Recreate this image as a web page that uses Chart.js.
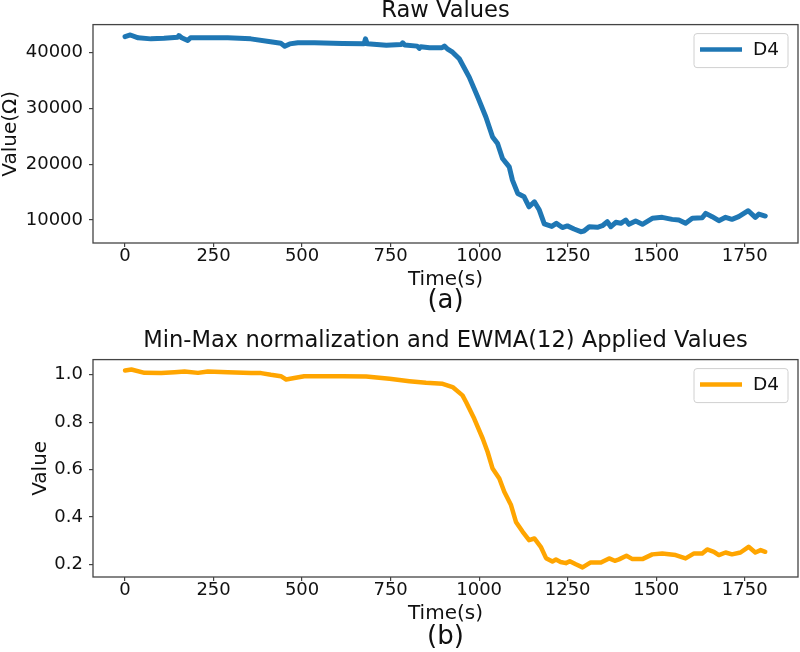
<!DOCTYPE html>
<html>
<head>
<meta charset="utf-8">
<script src="https://cdn.jsdelivr.net/npm/chart.js@4"></script>
<style>
body{margin:0;background:#fff;}
.box{position:absolute;left:0;width:800px;}
</style>
</head>
<body>
<div class="box" style="top:0;height:320px"><canvas id="rawChart"></canvas></div>
<div class="box" style="top:320px;height:332px"><canvas id="normChart"></canvas></div>
<script>
// time axis ticks (s)
const timeTicks = [0, 250, 500, 750, 1000, 1250, 1500, 1750];
const rawTicks = [10000, 20000, 30000, 40000];
const normTicks = [0.2, 0.4, 0.6, 0.8, 1.0];

// (a) raw resistance of D4
const rawTime = [0, 15, 37, 73, 110, 149, 152, 160, 177, 185, 225, 290, 355, 411, 440, 451, 465, 488, 535,
  614, 675, 679, 684, 738, 780, 784, 790, 825, 831, 835, 860, 895, 902, 910, 925, 944, 972, 996, 1019,
  1038, 1052, 1066, 1085, 1094, 1109, 1127, 1141, 1156, 1170, 1184, 1205, 1218, 1235, 1249, 1268, 1287,
  1296, 1311, 1334, 1348, 1362, 1372, 1386, 1400, 1414, 1423, 1442, 1461, 1489, 1517, 1545, 1564, 1583,
  1602, 1630, 1640, 1658, 1677, 1696, 1714, 1733, 1760, 1780, 1790, 1808];
const rawValues = [42900, 43200, 42680, 42500, 42600, 42800, 43100, 42700, 42200, 42700, 42680, 42680, 42500,
  41970, 41700, 41180, 41600, 41800, 41800, 41660, 41610, 42500, 41610, 41360, 41480, 41800, 41400, 41200,
  40800, 41100, 40900, 40900, 41200, 40720, 40110, 38930, 35640, 32060, 28480, 24900, 23720, 21040, 19530,
  17150, 14770, 14170, 12380, 13270, 11790, 9300, 8850, 9400, 8650, 8950, 8390, 7910, 8030, 8800, 8690,
  8980, 9700, 8800, 9590, 9410, 10000, 9230, 9820, 9230, 10300, 10480, 10120, 10000, 9410, 10300, 10400,
  11200, 10600, 9880, 10480, 10120, 10600, 11670, 10480, 11070, 10720];

// (b) min-max normalised + EWMA(12)
const normTime = [0, 18, 55, 102, 140, 168, 206, 234, 290, 356, 384, 412, 440, 455, 478, 506, 539, 615, 681,
  747, 803, 850, 897, 925, 953, 963, 986, 1010, 1024, 1038, 1057, 1071, 1090, 1104, 1123, 1141, 1156,
  1174, 1189, 1207, 1217, 1230, 1245, 1256, 1273, 1292, 1315, 1344, 1367, 1383, 1395, 1416, 1433, 1461,
  1489, 1517, 1555, 1583, 1607, 1630, 1644, 1663, 1677, 1696, 1714, 1738, 1761, 1780, 1795, 1808];
const normValues = [1.018, 1.022, 1.008, 1.007, 1.011, 1.014, 1.008, 1.014, 1.011, 1.007, 1.007, 1.0, 0.994,
  0.980, 0.986, 0.994, 0.994, 0.994, 0.993, 0.983, 0.973, 0.966, 0.962, 0.948, 0.913, 0.885, 0.815, 0.731,
  0.674, 0.604, 0.562, 0.506, 0.450, 0.379, 0.337, 0.302, 0.309, 0.274, 0.226, 0.212, 0.220, 0.210, 0.205,
  0.213, 0.200, 0.187, 0.208, 0.208, 0.225, 0.215, 0.221, 0.236, 0.222, 0.222, 0.242, 0.246, 0.239, 0.225,
  0.246, 0.246, 0.263, 0.253, 0.239, 0.250, 0.242, 0.250, 0.274, 0.250, 0.260, 0.253];

const FONT = "'DejaVu Sans', sans-serif";
const INK = "#111";
const SPINE = "#444";
Chart.defaults.font.family = FONT;
Chart.defaults.color = INK;

// full box round the plot + matplotlib-like legend in the top right corner
const framePlugin = {
  id: "frame",
  afterDraw(chart){
    const c = chart.ctx, a = chart.chartArea;
    const ds = chart.data.datasets[0];
    c.save();
    c.strokeStyle = SPINE;
    c.lineWidth = 1.3;
    c.strokeRect(a.left, a.top, a.right - a.left, a.bottom - a.top);

    const fx = a.right - 104, fy = a.top + 9;
    c.fillStyle = "rgba(255,255,255,0.8)";
    c.strokeStyle = "#d0d0d0";
    c.lineWidth = 1;
    c.beginPath();
    c.roundRect(fx, fy, 94, 34, 3);
    c.fill();
    c.stroke();
    c.strokeStyle = ds.borderColor;
    c.lineWidth = 4.5;
    c.beginPath();
    c.moveTo(fx + 6, fy + 16);
    c.lineTo(fx + 48, fy + 16);
    c.stroke();
    c.fillStyle = INK;
    c.font = "18.5px " + FONT;
    c.textBaseline = "middle";
    c.fillText(ds.label, fx + 59, fy + 17);
    c.restore();
  }
};

function makeChart(id, o){
  return new Chart(document.getElementById(id), {
    type: "line",
    data: {datasets: [{
      label: "D4",
      data: o.xs.map((t, i) => ({x: t, y: o.ys[i]})),
      borderColor: o.color,
      backgroundColor: o.color,
      borderWidth: o.lw,
      borderJoinStyle: "round",
      borderCapStyle: "round",
      pointRadius: 0,
      tension: 0
    }]},
    options: {
      responsive: true,
      maintainAspectRatio: false,
      animation: false,
      events: [],
      layout: {padding: o.pad},
      plugins: {
        title: {display: true, fullSize: false, text: o.title, color: INK,
          font: {size: 22.6, weight: "normal", lineHeight: 1}, padding: {top: 0, bottom: o.titleGap}},
        subtitle: {display: true, fullSize: false, text: o.tag, position: "bottom", color: INK,
          font: {size: 26, weight: "normal", lineHeight: 0.9}, padding: 0},
        legend: {display: false},
        tooltip: {enabled: false}
      },
      scales: {
        x: {
          type: "linear", min: -90.5, max: 1900.5,
          afterBuildTicks: s => { s.ticks = timeTicks.map(v => ({value: v})); },
          afterFit: s => { s.height = o.xHeight; },
          border: {display: false},
          grid: {drawOnChartArea: false, drawTicks: true, tickLength: 4, color: SPINE, lineWidth: 1.2},
          ticks: {font: {size: 18}, padding: -1, color: INK, maxRotation: 0, callback: v => String(v)},
          title: {display: true, text: "Time(s)", color: INK, font: {size: 20, lineHeight: 1},
            padding: {top: 0, bottom: o.xTitlePad}}
        },
        y: {
          min: o.yMin, max: o.yMax,
          afterBuildTicks: s => { s.ticks = o.yTicks.map(v => ({value: v})); },
          afterFit: s => { s.width = 93; },
          border: {display: false},
          grid: {drawOnChartArea: false, drawTicks: true, tickLength: 4, color: SPINE, lineWidth: 1.2},
          ticks: {font: {size: 18}, padding: 6, color: INK, callback: o.fmt},
          title: {display: true, text: o.yTitle, color: INK, font: {size: 20, lineHeight: 1},
            padding: {top: o.yTitlePad, bottom: o.yTitlePad}}
        }
      }
    },
    plugins: [framePlugin]
  });
}

makeChart("rawChart", {
  xs: rawTime, ys: rawValues, color: "#1f77b4", lw: 5,
  title: "Raw Values", tag: "(a)", titleGap: 2, xHeight: 47, xTitlePad: 0,
  yMin: 5880, yMax: 45060, yTicks: rawTicks, fmt: v => String(v),
  yTitle: "Value(Ω)", yTitlePad: 1,
  pad: {top: 0, right: 2, bottom: 6.6, left: 0}
});

makeChart("normChart", {
  xs: normTime, ys: normValues, color: "#ffa500", lw: 4.5,
  title: "Min-Max normalization and EWMA(12) Applied Values", tag: "(b)", titleGap: 7, xHeight: 49, xTitlePad: 2,
  yMin: 0.1465, yMax: 1.064, yTicks: normTicks, fmt: v => v.toFixed(1),
  yTitle: "Value", yTitlePad: 31,
  pad: {top: 10, right: 2, bottom: 2.6, left: 0}
});
</script>
</body>
</html>
